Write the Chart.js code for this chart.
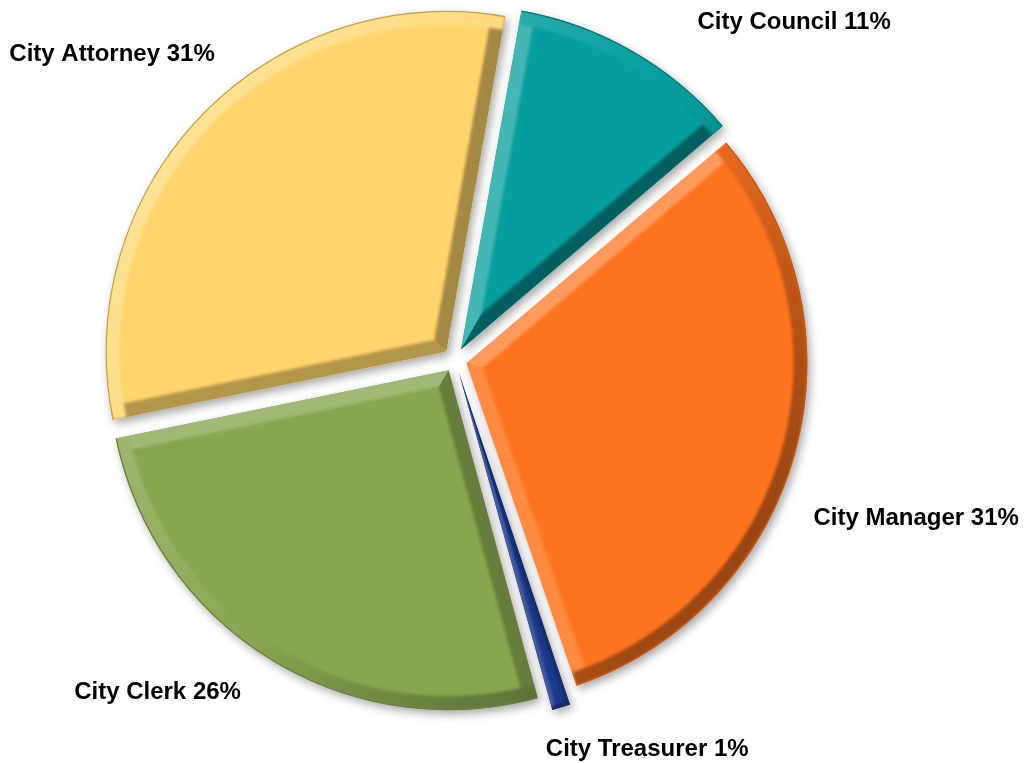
<!DOCTYPE html>
<html>
<head>
<meta charset="utf-8">
<title>Department share</title>
<script src="https://cdn.jsdelivr.net/npm/chart.js@4.4.0/dist/chart.umd.min.js"></script>
<style>
  html, body { margin: 0; padding: 0; background: #ffffff; }
  #wrap { width: 1024px; height: 763px; position: relative; }
</style>
</head>
<body>
<div id="wrap"><canvas id="pie" width="1024" height="763"></canvas></div>
<script>
// slices, clockwise from the top
var deptNames = ['City Council', 'City Manager', 'City Treasurer', 'City Clerk', 'City Attorney'];
var deptShare = [11, 31, 1, 26, 31];
var sliceColors = ['#079E9E', '#FF741F', '#1C3A8A', '#87A650', '#FFD56B'];

// where each label sits, relative to the outer middle of its slice
var labelShift = [[162, -28], [121, 65], [86, 42], [-113, 33], [-90, -60]];

// light comes from the upper left
var LIGHT = { x: -0.8, y: -0.6 };

function hexRgb(h) {
    var n = parseInt(h.slice(1), 16);
    return [(n >> 16) & 255, (n >> 8) & 255, n & 255];
}

// lighten or darken a colour by how much a face points at the light
function shade(hex, d) {
    var c = hexRgb(hex);
    var out;
    if (d >= 0) {
        out = c.map(function(v) { return Math.round(v + (255 - v) * 0.28 * d); });
    } else {
        out = c.map(function(v) { return Math.round(v * (1 - 0.4 * -d)); });
    }
    return 'rgb(' + out.join(',') + ')';
}

function facing(angle) {
    return Math.cos(angle) * LIGHT.x + Math.sin(angle) * LIGHT.y;
}

// same geometry the arc element uses when it draws itself
function arcShape(arc) {
    var p = arc.getProps(['x', 'y', 'startAngle', 'endAngle', 'outerRadius', 'circumference']);
    var off = (arc.options.offset || 0) / 4;
    var half = (p.startAngle + p.endAngle) / 2;
    var fix = 1 - Math.sin(Math.min(Math.PI, p.circumference));
    var rOff = off * fix;
    var r = p.outerRadius + rOff;
    var beta = Math.max(0.001, p.circumference * r - rOff / Math.PI) / r;
    var pad = (p.circumference - beta) / 2;
    return {
        x: p.x + Math.cos(half) * off,
        y: p.y + Math.sin(half) * off,
        r: r,
        a0: p.startAngle + pad,
        a1: p.endAngle - pad,
        mid: half,
        circ: p.circumference
    };
}

function wedge(ctx, s, from, to) {
    ctx.beginPath();
    ctx.moveTo(s.x, s.y);
    ctx.arc(s.x, s.y, s.r, from, to);
    ctx.closePath();
}

var bevelPlugin = {
    id: 'bevel',
    beforeDatasetsDraw: function(chart) {
        var ctx = chart.ctx;
        ctx.save();
        ctx.shadowColor = 'rgba(0,0,0,0.35)';
        ctx.shadowBlur = 10;
        ctx.shadowOffsetX = 3;
        ctx.shadowOffsetY = 4;
    },
    afterDatasetsDraw: function(chart) {
        var ctx = chart.ctx;
        ctx.restore();
        var meta = chart.getDatasetMeta(0);
        meta.data.forEach(function(arc, i) {
            var s = arcShape(arc);
            var base = sliceColors[i];
            var b = Math.min(14, s.r * s.circ * 0.18);

            ctx.save();
            wedge(ctx, s, s.a0, s.a1);
            ctx.clip();
            ctx.lineCap = 'butt';
            ctx.filter = 'blur(1.5px)';

            // straight edge on the start side
            ctx.save();
            wedge(ctx, s, s.a0, s.mid);
            ctx.clip();
            ctx.beginPath();
            ctx.moveTo(s.x, s.y);
            ctx.lineTo(s.x + Math.cos(s.a0) * s.r, s.y + Math.sin(s.a0) * s.r);
            ctx.lineWidth = b * 2;
            ctx.strokeStyle = shade(base, facing(s.a0 - Math.PI / 2));
            ctx.stroke();
            ctx.restore();

            // straight edge on the end side
            ctx.save();
            wedge(ctx, s, s.mid, s.a1);
            ctx.clip();
            ctx.beginPath();
            ctx.moveTo(s.x, s.y);
            ctx.lineTo(s.x + Math.cos(s.a1) * s.r, s.y + Math.sin(s.a1) * s.r);
            ctx.lineWidth = b * 2;
            ctx.strokeStyle = shade(base, facing(s.a1 + Math.PI / 2));
            ctx.stroke();
            ctx.restore();

            // curved rim, shaded by the direction it faces
            var g = ctx.createConicGradient(0, s.x, s.y);
            for (var k = 0; k <= 36; k++) {
                var t = k / 36;
                g.addColorStop(t, shade(base, facing(t * Math.PI * 2)));
            }
            ctx.beginPath();
            ctx.arc(s.x, s.y, s.r - b / 2, s.a0, s.a1);
            ctx.lineWidth = b;
            ctx.strokeStyle = g;
            ctx.stroke();

            // thin dark outline along the rim
            ctx.filter = 'none';
            ctx.beginPath();
            ctx.arc(s.x, s.y, s.r - 0.5, s.a0, s.a1);
            ctx.lineWidth = 1.5;
            ctx.strokeStyle = shade(base, -0.6);
            ctx.stroke();
            ctx.restore();
        });
    }
};

var labelPlugin = {
    id: 'sliceLabels',
    afterDraw: function(chart) {
        var ctx = chart.ctx;
        var meta = chart.getDatasetMeta(0);
        ctx.save();
        ctx.font = 'bold 24px "Liberation Sans", Arial, sans-serif';
        ctx.fillStyle = '#000000';
        ctx.textAlign = 'center';
        ctx.textBaseline = 'middle';
        meta.data.forEach(function(arc, i) {
            var s = arcShape(arc);
            var px = s.x + Math.cos(s.mid) * s.r + labelShift[i][0];
            var py = s.y + Math.sin(s.mid) * s.r + labelShift[i][1];
            ctx.fillText(deptNames[i] + ' ' + deptShare[i] + '%', px, py);
        });
        ctx.restore();
    }
};

new Chart(document.getElementById('pie'), {
    type: 'pie',
    data: {
        labels: deptNames,
        datasets: [{
            data: deptShare,
            backgroundColor: sliceColors,
            borderWidth: 0,
            offset: 48,
            radius: 340
        }]
    },
    options: {
        responsive: false,
        animation: false,
        rotation: 10,
        layout: { padding: { left: 0, right: 114, top: 0, bottom: 43 } },
        plugins: {
            legend: { display: false },
            tooltip: { enabled: false }
        }
    },
    plugins: [bevelPlugin, labelPlugin]
});
</script>
</body>
</html>
